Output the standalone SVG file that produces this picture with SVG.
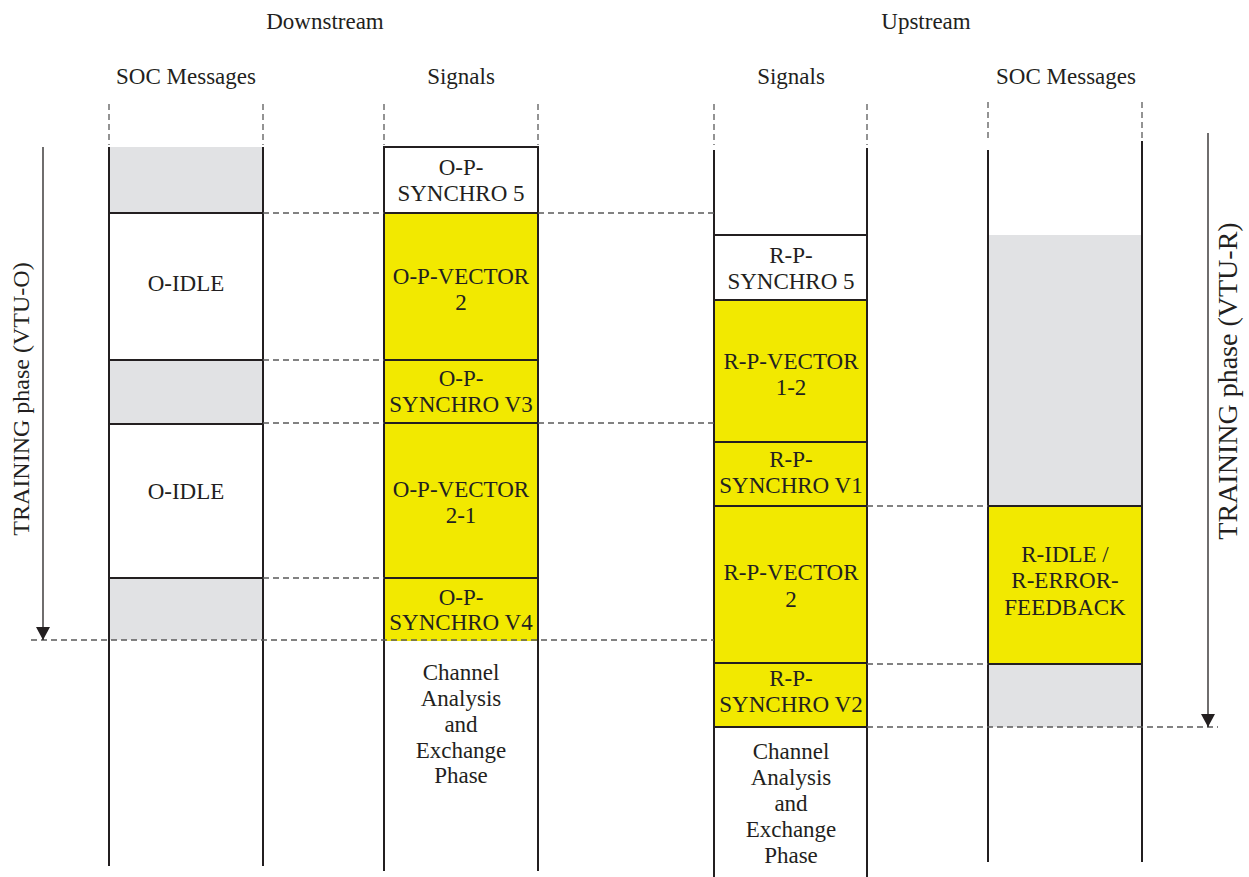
<svg xmlns="http://www.w3.org/2000/svg" width="1249" height="877" viewBox="0 0 1249 877">
  <style>
    text { font-family: "Liberation Serif", "Times New Roman", serif; font-size: 23px; fill: #231f20; text-anchor: middle; }
    .lane { stroke: #231f20; stroke-width: 2; fill: none; }
    .guide { stroke: #5a5a5a; stroke-width: 1.3; stroke-dasharray: 6 4; fill: none; }
    .yel { fill: #f2e900; }
    .gry { fill: #e1e2e4; }
    .edge { stroke: #231f20; stroke-width: 2; }
    .arrow { stroke: #231f20; stroke-width: 1.3; fill: none; }
  </style>
  <defs>
    <!-- filled arrowhead, tip at the end of the line -->
    <marker id="head" viewBox="0 0 13 14" refX="13" refY="7" markerWidth="13" markerHeight="14" markerUnits="userSpaceOnUse" orient="auto">
      <path d="M0,0 L13,7 L0,14 Z" fill="#231f20"/>
    </marker>
  </defs>

  <rect width="1249" height="877" fill="#ffffff"/>

  <!-- headings -->
  <g id="headings">
    <text x="325" y="29">Downstream</text>
    <text x="926" y="29">Upstream</text>
    <text x="186" y="84">SOC Messages</text>
    <text x="461" y="84">Signals</text>
    <text x="791" y="84">Signals</text>
    <text x="1066" y="84">SOC Messages</text>
  </g>

  <!-- downstream SOC messages lane -->
  <g id="ds-soc">
    <rect class="gry" x="109" y="147" width="154" height="66"/>
    <rect class="gry" x="109" y="360" width="154" height="64"/>
    <rect class="gry" x="109" y="578" width="154" height="62"/>
    <line class="edge" x1="109" y1="213" x2="263" y2="213"/>
    <line class="edge" x1="109" y1="360" x2="263" y2="360"/>
    <line class="edge" x1="109" y1="424" x2="263" y2="424"/>
    <line class="edge" x1="109" y1="578" x2="263" y2="578"/>
    <line class="guide" x1="109" y1="104" x2="109" y2="145"/>
    <line class="guide" x1="263" y1="104" x2="263" y2="145"/>
    <line class="lane" x1="109" y1="147" x2="109" y2="866"/>
    <line class="lane" x1="263" y1="147" x2="263" y2="866"/>
    <g id="o-idle-1"><text x="186" y="291">O-IDLE</text></g>
    <g id="o-idle-2"><text x="186" y="499">O-IDLE</text></g>
  </g>

  <!-- downstream signals lane -->
  <g id="ds-signals">
    <rect class="yel" x="384" y="213" width="154" height="428"/>
    <line class="edge" x1="384" y1="147" x2="538" y2="147"/>
    <line class="edge" x1="384" y1="213" x2="538" y2="213"/>
    <line class="edge" x1="384" y1="360" x2="538" y2="360"/>
    <line class="edge" x1="384" y1="423" x2="538" y2="423"/>
    <line class="edge" x1="384" y1="578" x2="538" y2="578"/>
    <line class="guide" x1="384" y1="104" x2="384" y2="145"/>
    <line class="guide" x1="538" y1="104" x2="538" y2="145"/>
    <line class="lane" x1="384" y1="146" x2="384" y2="871"/>
    <line class="lane" x1="538" y1="146" x2="538" y2="871"/>
    <g id="o-p-synchro-5"><text x="461" y="175">O-P-</text><text x="461" y="201">SYNCHRO 5</text></g>
    <g id="o-p-vector-2"><text x="461" y="284">O-P-VECTOR</text><text x="461" y="310">2</text></g>
    <g id="o-p-synchro-v3"><text x="461" y="386">O-P-</text><text x="461" y="412">SYNCHRO V3</text></g>
    <g id="o-p-vector-2-1"><text x="461" y="497">O-P-VECTOR</text><text x="461" y="523">2-1</text></g>
    <g id="o-p-synchro-v4"><text x="461" y="605">O-P-</text><text x="461" y="630">SYNCHRO V4</text></g>
    <g id="ds-channel-analysis">
      <text x="461" y="680">Channel</text>
      <text x="461" y="706">Analysis</text>
      <text x="461" y="732">and</text>
      <text x="461" y="758">Exchange</text>
      <text x="461" y="783">Phase</text>
    </g>
  </g>

  <!-- upstream signals lane -->
  <g id="us-signals">
    <rect class="yel" x="714" y="300" width="153" height="427"/>
    <line class="edge" x1="714" y1="235" x2="867" y2="235"/>
    <line class="edge" x1="714" y1="300" x2="867" y2="300"/>
    <line class="edge" x1="714" y1="442" x2="867" y2="442"/>
    <line class="edge" x1="714" y1="506" x2="867" y2="506"/>
    <line class="edge" x1="714" y1="663" x2="867" y2="663"/>
    <line class="edge" x1="714" y1="727" x2="867" y2="727"/>
    <line class="guide" x1="714" y1="104" x2="714" y2="145"/>
    <line class="guide" x1="867" y1="104" x2="867" y2="145"/>
    <line class="lane" x1="714" y1="150" x2="714" y2="877"/>
    <line class="lane" x1="867" y1="148" x2="867" y2="877"/>
    <g id="r-p-synchro-5"><text x="791" y="263">R-P-</text><text x="791" y="289">SYNCHRO 5</text></g>
    <g id="r-p-vector-1-2"><text x="791" y="369">R-P-VECTOR</text><text x="791" y="395">1-2</text></g>
    <g id="r-p-synchro-v1"><text x="791" y="467">R-P-</text><text x="791" y="493">SYNCHRO V1</text></g>
    <g id="r-p-vector-2"><text x="791" y="580">R-P-VECTOR</text><text x="791" y="607">2</text></g>
    <g id="r-p-synchro-v2"><text x="791" y="686">R-P-</text><text x="791" y="712">SYNCHRO V2</text></g>
    <g id="us-channel-analysis">
      <text x="791" y="759">Channel</text>
      <text x="791" y="785">Analysis</text>
      <text x="791" y="811">and</text>
      <text x="791" y="837">Exchange</text>
      <text x="791" y="863">Phase</text>
    </g>
  </g>

  <!-- upstream SOC messages lane -->
  <g id="us-soc">
    <rect class="gry" x="988" y="235" width="154" height="271"/>
    <rect class="yel" x="988" y="506" width="154" height="158"/>
    <rect class="gry" x="988" y="664" width="154" height="63"/>
    <line class="edge" x1="988" y1="506" x2="1142" y2="506"/>
    <line class="edge" x1="988" y1="664" x2="1142" y2="664"/>
    <line class="guide" x1="988" y1="102" x2="988" y2="141"/>
    <line class="guide" x1="1142" y1="102" x2="1142" y2="140"/>
    <line class="lane" x1="988" y1="150" x2="988" y2="862"/>
    <line class="lane" x1="1142" y1="141" x2="1142" y2="862"/>
    <g id="r-idle"><text x="1065" y="562">R-IDLE /</text><text x="1065" y="588">R-ERROR-</text><text x="1065" y="615">FEEDBACK</text></g>
  </g>

  <!-- phase labels -->
  <g id="vtu-o-label"><text transform="translate(29,399) rotate(-90)" style="font-size:24px">TRAINING phase (VTU-O)</text></g>
  <g id="vtu-r-label"><text transform="translate(1237,381) rotate(-90)" style="font-size:28px">TRAINING phase (VTU-R)</text></g>

  <!-- connectors: alignment guides and phase arrows -->
  <g id="connectors">
    <line class="guide" x1="263" y1="213" x2="384" y2="213"/>
    <line class="guide" x1="538" y1="213" x2="714" y2="213"/>
    <line class="guide" x1="263" y1="360" x2="384" y2="360"/>
    <line class="guide" x1="263" y1="423" x2="384" y2="423"/>
    <line class="guide" x1="538" y1="423" x2="714" y2="423"/>
    <line class="guide" x1="263" y1="578" x2="384" y2="578"/>
    <line class="guide" x1="31" y1="640" x2="714" y2="640"/>
    <line class="guide" x1="867" y1="506" x2="988" y2="506"/>
    <line class="guide" x1="867" y1="664" x2="988" y2="664"/>
    <line class="guide" x1="867" y1="727" x2="1218" y2="727"/>
    <line class="arrow" x1="43" y1="147" x2="43" y2="640" marker-end="url(#head)"/>
    <line class="arrow" x1="1208" y1="133" x2="1208" y2="727" marker-end="url(#head)"/>
  </g>
</svg>
